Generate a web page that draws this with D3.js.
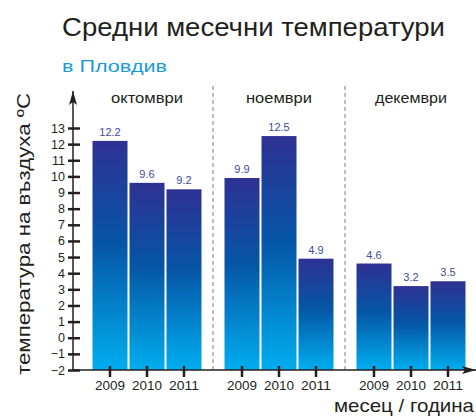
<!DOCTYPE html>
<html><head><meta charset="utf-8">
<script src="https://cdn.jsdelivr.net/npm/d3@7"></script>
<style>body{margin:0;background:#fff}svg{display:block;font-family:"Liberation Sans",Arial,sans-serif}</style>
</head><body><svg id="c" width="476" height="418"></svg>
<script>
const months = ["октомври", "ноември", "декември"];
const years = ["2009", "2010", "2011"];
const temps = [
  [12.2, 9.6, 9.2],
  [9.9, 12.5, 4.9],
  [4.6, 3.2, 3.5]
];
const yTicks = [-2,-1,0,1,2,3,4,5,6,7,8,9,10,11,12,13];
const title = "Средни месечни температури";
const subtitle = "в Пловдив";
const yLabel = "температура на въздуха ºC";
const xLabel = "месец / година";

const svg = d3.select("#c");
const defs = svg.append("defs");
const g = defs.append("linearGradient").attr("id","bg").attr("x1",0).attr("y1",0).attr("x2",0).attr("y2",1);
g.append("stop").attr("offset","0%").attr("stop-color","#2e3192");
g.append("stop").attr("offset","45%").attr("stop-color","#0556a6");
g.append("stop").attr("offset","100%").attr("stop-color","#00aeef");
const ar = defs.append("marker").attr("id","arr").attr("viewBox","0 0 14 8").attr("refX",14).attr("refY",4)
  .attr("markerWidth",14).attr("markerHeight",8).attr("markerUnits","userSpaceOnUse").attr("orient","auto");
ar.append("path").attr("d","M0,0L14,4L0,8L3,4Z").attr("fill","#231f20");

const y = d3.scaleLinear().domain([-2,13]).range([370,128]);
const x0 = d3.scaleBand().domain(months).range([81,477]).paddingInner(23/132).paddingOuter(23/264);
const x1 = d3.scaleBand().domain(years).range([0,x0.bandwidth()]).paddingInner(2/37).paddingOuter(0);

// titles
svg.append("text").attr("x",62).attr("y",36).attr("font-size",25).attr("fill","#231f20")
  .attr("textLength",383).attr("lengthAdjust","spacingAndGlyphs").text(title);
svg.append("text").attr("x",62).attr("y",72).attr("font-size",16.5).attr("fill","#1b9ad7")
  .attr("textLength",105).attr("lengthAdjust","spacingAndGlyphs").text(subtitle);

// separators
months.slice(1).forEach(m=>{
  const xs = x0(m) - (x0.step()-x0.bandwidth())/2;
  svg.append("line").attr("x1",xs).attr("x2",xs).attr("y1",86).attr("y2",370)
    .attr("stroke","#bdbdbd").attr("stroke-width",2).attr("stroke-dasharray","4,3");
});

// group labels
const mlWidth = {"октомври":72, "ноември":66, "декември":72};
svg.selectAll(".ml").data(months).join("text").attr("x",m=>x0(m)+x0.bandwidth()/2).attr("y",103)
  .attr("text-anchor","middle").attr("font-size",14).attr("fill","#231f20")
  .attr("textLength",d=>mlWidth[d]).attr("lengthAdjust","spacingAndGlyphs").text(d=>d);

// bars
const data = [];
months.forEach((m,i)=>years.forEach((yr,j)=>data.push({m,yr,v:temps[i][j]})));
svg.selectAll(".bar").data(data).join("rect").attr("x",d=>x0(d.m)+x1(d.yr)).attr("width",x1.bandwidth())
  .attr("y",d=>y(d.v)).attr("height",d=>y(-2)-y(d.v)).attr("fill","url(#bg)");
svg.selectAll(".vl").data(data).join("text").attr("x",d=>x0(d.m)+x1(d.yr)+x1.bandwidth()/2).attr("y",d=>y(d.v)-5)
  .attr("text-anchor","middle").attr("font-size",11).attr("fill","#3a4aa0").text(d=>d.v.toFixed(1));

// y axis
const ya = svg.append("g").attr("transform","translate(73,0)")
  .call(d3.axisLeft(y).tickValues(yTicks).tickSize(0).tickPadding(8).tickFormat(d3.format("d")));
ya.select(".domain").remove();
ya.selectAll("text").attr("font-size",12.5).attr("fill","#231f20").attr("font-family","Liberation Sans, Arial, sans-serif");
ya.selectAll(".tick").append("line").attr("x1",-5).attr("x2",7).attr("stroke","#231f20").attr("stroke-width",2.5);
svg.append("line").attr("x1",73).attr("x2",73).attr("y1",371).attr("y2",91).attr("stroke","#231f20").attr("stroke-width",1.5).attr("marker-end","url(#arr)");

// x axis
svg.append("line").attr("x1",72).attr("x2",476).attr("y1",370).attr("y2",370).attr("stroke","#231f20").attr("stroke-width",1.5).attr("marker-end","url(#arr)");
months.forEach(m=>{
  const ax = svg.append("g").attr("transform",`translate(${x0(m)},370)`)
    .call(d3.axisBottom(x1).tickSize(0).tickPadding(11));
  ax.select(".domain").remove();
  ax.selectAll("text").attr("font-size",13).attr("fill","#231f20").attr("font-family","Liberation Sans, Arial, sans-serif")
    .attr("textLength",30).attr("lengthAdjust","spacingAndGlyphs");
  ax.selectAll(".tick").append("line").attr("y1",-4).attr("y2",7).attr("stroke","#231f20").attr("stroke-width",2.5);
});

// axis labels
svg.append("text").attr("transform","translate(30,234) rotate(-90)").attr("text-anchor","middle")
  .attr("font-size",19).attr("fill","#231f20").attr("textLength",282).attr("lengthAdjust","spacingAndGlyphs").text(yLabel);
svg.append("text").attr("x",474).attr("y",412).attr("text-anchor","end").attr("font-size",18.5).attr("fill","#231f20")
  .attr("textLength",140).attr("lengthAdjust","spacingAndGlyphs").text(xLabel);
</script></body></html>
